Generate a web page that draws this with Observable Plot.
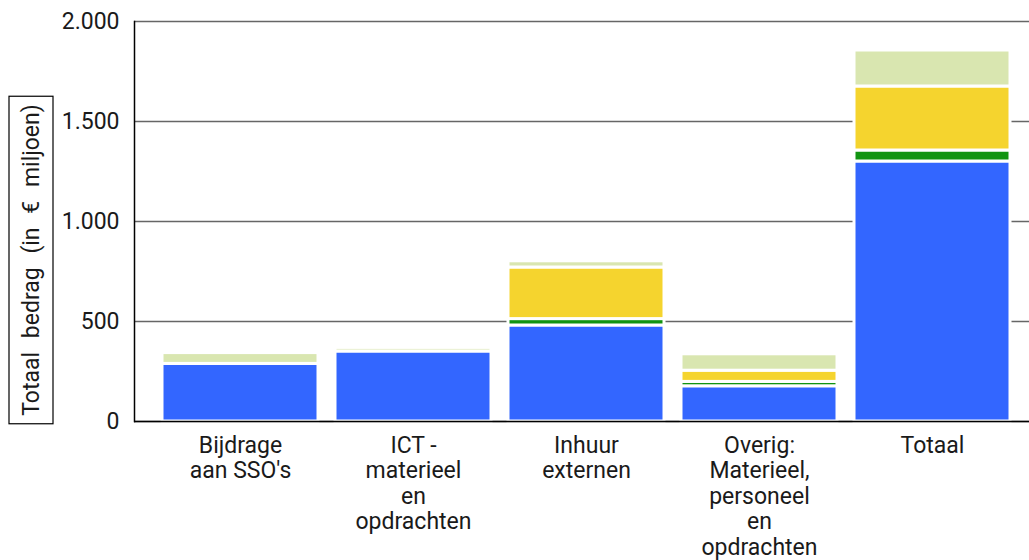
<!DOCTYPE html>
<html>
<head>
<meta charset="utf-8">
<script src="https://cdn.jsdelivr.net/npm/d3@7"></script>
<script src="https://cdn.jsdelivr.net/npm/@observablehq/plot@0.6"></script>
<style>
  html, body { margin: 0; padding: 0; background: #fff; }
  body { width: 1029px; height: 560px; overflow: hidden; font-family: Roboto, "Noto Sans", sans-serif; }
</style>
</head>
<body>
<div id="chart"></div>
<script>
// ---- data ----
const categories = ["Bijdrage aan SSO's", "ICT - materieel en opdrachten", "Inhuur externen", "Overig: Materieel, personeel en opdrachten", "Totaal"];
const tickLabels = ["Bijdrage\naan SSO's", "ICT -\nmaterieel\nen\nopdrachten", "Inhuur\nexternen", "Overig:\nMaterieel,\npersoneel\nen\nopdrachten", "Totaal"];
const seriesNames = ["Reeks 1", "Reeks 2", "Reeks 3", "Reeks 4"];
const seriesColors = ["#3366ff", "#119411", "#f5d42e", "#d9e6b0"];
const reeks1 = [288, 350, 480, 176, 1300];
const reeks2 = [0, 0, 32, 22, 55];
const reeks3 = [0, 0, 258, 56, 320];
const reeks4 = [54, 18, 31, 82, 180];
const yTicks = [0, 500, 1000, 1500, 2000];
const yLabel = "Totaal bedrag (in € miljoen)";

const seriesValues = [reeks1, reeks2, reeks3, reeks4];
const rows = [];
seriesNames.forEach((s, si) => {
  categories.forEach((c, ci) => {
    const v = seriesValues[si][ci];
    if (v > 0) rows.push({category: c, series: s, value: v});
  });
});
const labelOf = new Map(categories.map((c, i) => [c, tickLabels[i]]));
const nl = d3.formatLocale({decimal: ",", thousands: ".", grouping: [3], currency: ["€ ", ""]});
const fmt = nl.format(",");

const W = 1029, H = 560;
const FS = 23;
const chart = Plot.plot({
  width: W,
  height: H,
  marginTop: 21,
  marginBottom: 139,
  marginLeft: 134,
  marginRight: 0,
  style: {fontFamily: "Roboto, sans-serif", fontSize: FS + "px", color: "#1a1a1a", background: "#fff"},
  x: {domain: categories, range: [142, 1029], padding: 0.1},
  y: {domain: [0, 2000]},
  color: {domain: seriesNames, range: seriesColors},
  marks: [
    Plot.gridY(yTicks, {stroke: "#666", strokeOpacity: 1, strokeWidth: 1.4}),
    Plot.barY(rows, {
      x: "category", y: "value", fill: "series",
      order: seriesNames,
      stroke: "#fff", strokeWidth: 3
    }),
    Plot.axisY(yTicks, {tickSize: 0, tickPadding: 15, tickFormat: fmt, fontSize: FS, label: null}),
    Plot.axisX({tickSize: 0, tickPadding: 13, tickFormat: d => labelOf.get(d), fontSize: FS, lineHeight: 1.11, label: null}),
    Plot.ruleY([0], {stroke: "#000", strokeWidth: 1.5}),
    Plot.frame({anchor: "left", stroke: "#000", strokeWidth: 1.5})
  ]
});
document.getElementById("chart").appendChild(chart);

// y-axis title in a box
const svg = d3.select(chart);
const g = svg.append("g").attr("transform", "translate(31,260) rotate(-90)");
const t = g.append("text")
  .attr("text-anchor", "middle")
  .attr("dy", "0.35em")
  .attr("font-size", FS)
  .attr("fill", "#1a1a1a")
  .style("word-spacing", "8px")
  .text(yLabel);
const bb = t.node().getBBox();
g.insert("rect", "text")
  .attr("x", bb.x - 8)
  .attr("y", -22)
  .attr("width", bb.width + 16)
  .attr("height", 44)
  .attr("fill", "#fff")
  .attr("stroke", "#000")
  .attr("stroke-width", 1.2);
</script>
</body>
</html>
